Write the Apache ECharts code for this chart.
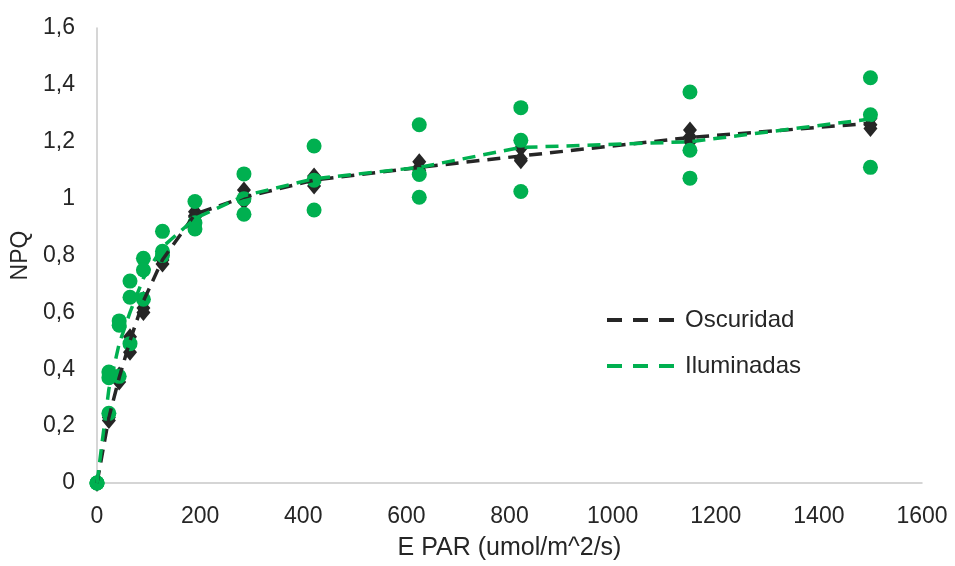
<!DOCTYPE html>
<html>
<head>
<meta charset="utf-8">
<script src="https://cdn.jsdelivr.net/npm/echarts@6/dist/echarts.min.js"></script>
<style>
html,body{margin:0;padding:0;background:#fff;}
#chart{width:955px;height:566px;}
</style>
</head>
<body>
<div id="chart"></div>
<script>
// E PAR (umol/m^2/s) levels
var parLevels = [0, 23, 43, 64, 90, 127, 190, 285, 421, 625, 822, 1150, 1500];

// Oscuridad replicates (black diamonds)
var oscRep1 = [0, 0.24, 0.38, 0.514, 0.615, 0.784, 0.954, 1.03, 1.08, 1.13, 1.177, 1.241, 1.282];
var oscRep2 = [0, 0.22, 0.355, 0.46, 0.60, 0.77, 0.94, 0.99, 1.044, 1.11, 1.133, 1.218, 1.247];
var oscRep3 = [0, 0.23, 0.37, 0.49, 0.645, 0.80, 0.935, 1.00, 1.07, 1.10, 1.14, 1.20, 1.26];
// Oscuridad mean line
var oscMean = [0, 0.23, 0.37, 0.50, 0.64, 0.785, 0.945, 1.005, 1.065, 1.11, 1.15, 1.215, 1.265];

// Iluminadas replicates (green circles)
var iluRep1 = [0, 0.39, 0.57, 0.71, 0.79, 0.885, 0.99, 1.087, 1.185, 1.26, 1.32, 1.375, 1.425];
var iluRep2 = [0, 0.37, 0.555, 0.653, 0.749, 0.815, 0.915, 1.0, 1.065, 1.085, 1.205, 1.17, 1.295];
var iluRep3 = [0, 0.245, 0.375, 0.49, 0.646, 0.80, 0.893, 0.945, 0.96, 1.005, 1.025, 1.072, 1.11];
// Iluminadas mean line
var iluMean = [0, 0.33, 0.49, 0.60, 0.72, 0.83, 0.93, 1.01, 1.07, 1.11, 1.18, 1.20, 1.28];

var seriesNames = ['Oscuridad', 'Iluminadas'];
var xTicks = [0, 200, 400, 600, 800, 1000, 1200, 1400, 1600];
var yTicks = [0, 0.2, 0.4, 0.6, 0.8, 1, 1.2, 1.4, 1.6];

function pairs(xs, ys) { return xs.map(function (x, i) { return [x, ys[i]]; }); }
function reps(list) { var out = []; list.forEach(function (r) { out = out.concat(pairs(parLevels, r)); }); return out; }

var FONT = 'Liberation Sans, Arial, sans-serif';
var BLACK = '#262626';
var GREEN = '#00B050';

var chart = echarts.init(document.getElementById('chart'), null, {renderer: 'canvas'});
chart.setOption({
  animation: false,
  backgroundColor: '#fff',
  grid: {left: 97, right: 33, top: 28, bottom: 83, containLabel: false},
  legend: {
    data: seriesNames,
    orient: 'vertical',
    left: 605,
    top: 308,
    padding: 0,
    itemWidth: 67,
    itemHeight: 4,
    itemGap: 22,
    itemStyle: {opacity: 0},
    lineStyle: {type: [15, 11], width: 4},
    textStyle: {fontFamily: FONT, fontSize: 24, color: BLACK, padding: [0, 0, 0, 6]}
  },
  xAxis: {
    type: 'value',
    min: xTicks[0], max: xTicks[xTicks.length - 1], interval: 200,
    name: 'E PAR (umol/m^2/s)',
    nameLocation: 'middle',
    nameGap: 53,
    nameTextStyle: {fontFamily: FONT, fontSize: 25, color: BLACK},
    axisLine: {show: true, lineStyle: {color: '#c8c8c8', width: 1.5}},
    axisTick: {show: false},
    splitLine: {show: false},
    axisLabel: {
      fontFamily: FONT, fontSize: 23, color: BLACK, margin: 22,
      formatter: function (v) { return String(v); }
    }
  },
  yAxis: {
    type: 'value',
    min: yTicks[0], max: yTicks[yTicks.length - 1], interval: 0.2,
    name: 'NPQ',
    nameLocation: 'middle',
    nameGap: 58,
    nameTextStyle: {fontFamily: FONT, fontSize: 23, color: BLACK},
    axisLine: {show: true, lineStyle: {color: '#c8c8c8', width: 1.5}},
    axisTick: {show: false},
    splitLine: {show: false},
    axisLabel: {
      fontFamily: FONT, fontSize: 23, color: BLACK, margin: 22,
      formatter: function (v) { return String(+v.toFixed(1)).replace('.', ','); }
    }
  },
  series: [
    {
      name: 'Oscuridad pts', type: 'scatter', symbol: 'diamond', symbolSize: [14, 17],
      itemStyle: {color: BLACK, opacity: 1}, data: reps([oscRep1, oscRep2, oscRep3]), z: 2
    },
    {
      name: 'Iluminadas pts', type: 'scatter', symbol: 'circle', symbolSize: 15,
      itemStyle: {color: GREEN, opacity: 1}, data: reps([iluRep1, iluRep2, iluRep3]), z: 3
    },
    {
      name: seriesNames[0], type: 'line', symbol: 'none', smooth: false,
      lineStyle: {color: BLACK, width: 3.5, type: [13, 8]}, itemStyle: {color: BLACK},
      data: pairs(parLevels, oscMean), z: 4
    },
    {
      name: seriesNames[1], type: 'line', symbol: 'none', smooth: false,
      lineStyle: {color: GREEN, width: 3.5, type: [13, 8]}, itemStyle: {color: GREEN},
      data: pairs(parLevels, iluMean), z: 5
    }
  ]
});
</script>
</body>
</html>
